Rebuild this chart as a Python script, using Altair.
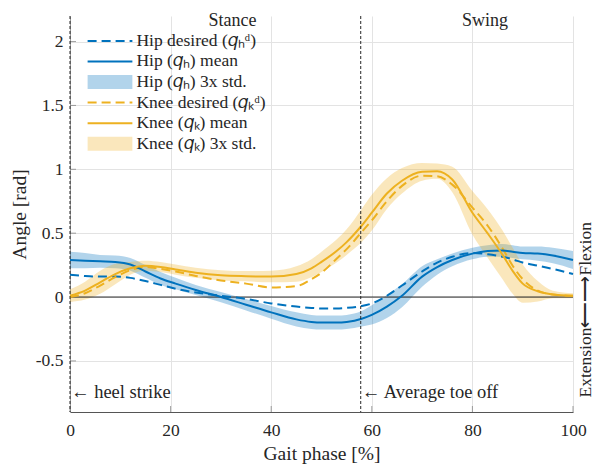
import altair as alt
import pandas as pd

# ---------------- data ----------------
phase = [0, 3, 6, 9, 12, 15, 18, 21, 25, 30, 35, 40, 45, 48, 50, 53, 55, 58,
         60, 63, 66, 70, 73, 76, 80, 83, 86, 88, 90, 93, 96, 100]

hip_mean = [0.29, 0.285, 0.28, 0.275, 0.255, 0.20, 0.145, 0.105, 0.055, 0.0,
            -0.06, -0.12, -0.175, -0.195, -0.20, -0.20, -0.195, -0.17,
            -0.14, -0.075, 0.01, 0.16, 0.235, 0.29, 0.34, 0.36, 0.365, 0.355,
            0.345, 0.34, 0.325, 0.29]
hip_std3 = [0.065, 0.06, 0.05, 0.05, 0.05, 0.05, 0.05, 0.045, 0.04, 0.04,
            0.045, 0.05, 0.055, 0.055, 0.055, 0.055, 0.055, 0.06,
            0.075, 0.09, 0.09, 0.08, 0.06, 0.05, 0.045, 0.045, 0.05, 0.05,
            0.05, 0.055, 0.06, 0.07]
hip_desired = [0.175, 0.165, 0.16, 0.16, 0.15, 0.125, 0.095, 0.065, 0.035, 0.01,
               -0.015, -0.05, -0.075, -0.085, -0.09, -0.09, -0.085, -0.07,
               -0.05, 0.01, 0.09, 0.20, 0.27, 0.315, 0.345, 0.335, 0.315, 0.295,
               0.27, 0.245, 0.22, 0.18]

knee_mean = [0.01, 0.05, 0.115, 0.18, 0.225, 0.245, 0.235, 0.215, 0.19, 0.17,
             0.163, 0.16, 0.18, 0.225, 0.275, 0.36, 0.43, 0.56,
             0.66, 0.81, 0.91, 0.98, 0.985, 0.92, 0.66, 0.50, 0.33, 0.205,
             0.105, 0.045, 0.02, 0.01]
knee_std3 = [0.05, 0.07, 0.09, 0.08, 0.05, 0.04, 0.04, 0.04, 0.04, 0.04,
             0.04, 0.045, 0.06, 0.07, 0.08, 0.09, 0.10, 0.13,
             0.14, 0.12, 0.10, 0.07, 0.06, 0.10, 0.17, 0.19, 0.19, 0.18,
             0.15, 0.08, 0.03, 0.02]
knee_desired = [0.0, 0.03, 0.09, 0.155, 0.21, 0.235, 0.22, 0.20, 0.165, 0.13,
                0.105, 0.075, 0.085, 0.14, 0.19, 0.30, 0.375, 0.51,
                0.60, 0.75, 0.87, 0.95, 0.945, 0.88, 0.70, 0.56, 0.38, 0.245,
                0.14, 0.05, 0.02, 0.01]

x_ticks = [0, 20, 40, 60, 80, 100]
y_ticks = [-0.5, 0, 0.5, 1, 1.5, 2]
heel_strike = 0
toe_off = 57.8

legend_labels = ["Hip desired (𝑞ₕᵈ)", "Hip (𝑞ₕ) mean", "Hip (𝑞ₕ) 3x std.",
                 "Knee desired (𝑞ₖᵈ)", "Knee (𝑞ₖ) mean", "Knee (𝑞ₖ) 3x std."]

BLUE = "#0072BD"
ORANGE = "#EDB120"
FONT = "Liberation Serif"
TXT = "#262626"
XT = "Gait phase [%]"
YT = "Angle [rad]"

# ---------------- tables ----------------
rows = []
for i, p in enumerate(phase):
    rows.append(dict(phase=p, joint="Hip", mean=hip_mean[i], desired=hip_desired[i],
                     lo=hip_mean[i] - hip_std3[i], hi=hip_mean[i] + hip_std3[i]))
    rows.append(dict(phase=p, joint="Knee", mean=knee_mean[i], desired=knee_desired[i],
                     lo=knee_mean[i] - knee_std3[i], hi=knee_mean[i] + knee_std3[i]))
df = pd.DataFrame(rows)

xs = alt.Scale(domain=[0, 100], nice=False, zero=False)
ys = alt.Scale(domain=[-0.9, 2.2], nice=False, zero=False)
cs = alt.Scale(domain=["Hip", "Knee"], range=[BLUE, ORANGE])


def X(f):
    return alt.X(f, scale=xs, title=XT)


def Y(f):
    return alt.Y(f, scale=ys, title=YT)


COL = alt.Color("joint:N", scale=cs, legend=None)

xaxis = alt.Axis(values=x_ticks, grid=True, gridColor="#E3E3E3", ticks=False,
                 domainColor="#555555", labelFont=FONT, labelFontSize=17.5,
                 labelColor=TXT, labelPadding=9, labelFlush=False, title=XT,
                 titleFont=FONT, titleFontSize=19.5, titleFontWeight="normal",
                 titleColor=TXT, titlePadding=6)
yaxis = alt.Axis(values=y_ticks, grid=True, gridColor="#E3E3E3", ticks=False,
                 domainColor="#9A9A9A", labelFont=FONT, labelFontSize=17.5,
                 labelColor=TXT, labelPadding=7, labelFlush=False,
                 labelExpr="datum.value + ''",
                 title=YT, titleFont=FONT, titleFontSize=19.5,
                 titleFontWeight="normal", titleColor=TXT, titlePadding=6)

base = alt.Chart(df)

bands = base.mark_area(opacity=0.3, interpolate="monotone").encode(
    x=alt.X("phase:Q", scale=xs, axis=xaxis, title=XT),
    y=alt.Y("lo:Q", scale=ys, axis=yaxis, title=YT),
    y2="hi:Q",
    color=COL,
    detail="joint:N",
)

zero_line = alt.Chart(pd.DataFrame({"y": [0]})).mark_rule(
    color="#262626", strokeWidth=1).encode(y=Y("y:Q"))

vlines = alt.Chart(pd.DataFrame({"x": [heel_strike, toe_off]})).mark_rule(
    color="#262626", strokeWidth=1, strokeDash=[3, 2]).encode(x=X("x:Q"))

xt = alt.Chart(pd.DataFrame({"x": x_ticks})).mark_tick(
    orient="vertical", size=6, thickness=1, color="#777777").encode(
    x=X("x:Q"), y=alt.value(393))
yt = alt.Chart(pd.DataFrame({"y": y_ticks})).mark_tick(
    orient="horizontal", size=6, thickness=1, color="#777777").encode(
    y=Y("y:Q"), x=alt.value(3))

desired = base.mark_line(strokeWidth=2, strokeDash=[9, 5], interpolate="monotone").encode(
    x=X("phase:Q"), y=Y("desired:Q"), color=COL, detail="joint:N")
means = base.mark_line(strokeWidth=2, interpolate="monotone").encode(
    x=X("phase:Q"), y=Y("mean:Q"), color=COL, detail="joint:N")

# ---------------- manual legend ----------------
kinds = ["dash", "solid", "band", "dash", "solid", "band"]
joints = ["Hip", "Hip", "Hip", "Knee", "Knee", "Knee"]
leg = pd.DataFrame({
    "label": legend_labels,
    "kind": kinds,
    "joint": joints,
    "ly": [2.005 - 0.161 * i for i in range(6)],
})
leg["x0"] = 3.5
leg["x1"] = 12.4
leg["xt"] = 13.2
leg["lo"] = leg["ly"] - 0.055
leg["hi"] = leg["ly"] + 0.055

lbase = alt.Chart(leg)
leg_dash = lbase.transform_filter(alt.datum.kind == "dash").mark_rule(
    strokeWidth=2, strokeDash=[9, 5]).encode(
    x=X("x0:Q"), x2="x1:Q", y=Y("ly:Q"), color=COL)
leg_solid = lbase.transform_filter(alt.datum.kind == "solid").mark_rule(
    strokeWidth=2).encode(
    x=X("x0:Q"), x2="x1:Q", y=Y("ly:Q"), color=COL)
leg_band = lbase.transform_filter(alt.datum.kind == "band").mark_rect(
    opacity=0.3).encode(
    x=X("x0:Q"), x2="x1:Q", y=Y("lo:Q"), y2="hi:Q", color=COL)
leg_text = lbase.mark_text(align="left", baseline="middle", font=FONT,
                           fontSize=17.5, color=TXT).encode(
    x=X("xt:Q"), y=Y("ly:Q"), text="label:N")

# ---------------- annotations ----------------
def note(x, y, t, size=18.5, **kw):
    d = pd.DataFrame({"x": [x], "y": [y], "t": [t]})
    return alt.Chart(d).mark_text(font=FONT, fontSize=size, color=TXT, **kw).encode(
        x=X("x:Q"), y=Y("y:Q"), text="t:N")


stance = note(32.3, 2.2, "Stance", size=18, align="center", baseline="top", dy=-4)
swing = note(82.5, 2.2, "Swing", size=18, align="center", baseline="top", dy=-4)
heel = note(heel_strike, -0.74, "← heel strike", align="left", baseline="middle", dx=1)
toe = note(toe_off, -0.74, "← Average toe off", align="left", baseline="middle", dx=1)
side = note(102.5, -0.1, "Extension⟵⟶Flexion", size=17.5,
            align="center", baseline="middle", angle=270)

chart = alt.layer(
    bands, zero_line, xt, yt, desired, means, vlines,
    leg_band, leg_dash, leg_solid, leg_text,
    stance, swing, heel, toe, side,
).properties(
    width=503, height=396,
    autosize=alt.AutoSizeParams(type="none"),
    padding={"left": 70, "top": 16, "right": 24, "bottom": 53},
    background="white",
).configure_view(stroke=None)

chart.save("out.html", embed_options={"renderer": "svg", "actions": False})
